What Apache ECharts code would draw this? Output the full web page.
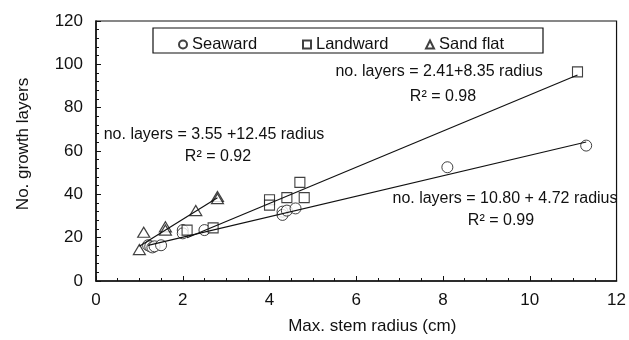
<!DOCTYPE html>
<html>
<head>
<meta charset="utf-8">
<script src="https://cdn.jsdelivr.net/npm/echarts@6/dist/echarts.min.js"></script>
<style>
  html, body { margin: 0; padding: 0; background: #fff; }
  #chart { width: 629px; height: 340px; }
</style>
</head>
<body>
<div id="chart"></div>
<script>
// values
var seawardX = [1.2, 1.25, 1.3, 1.35, 1.5, 2.0, 2.0, 2.5, 4.3, 4.3, 4.4, 4.6, 8.1, 11.3];
var seawardY = [16.5, 16, 15.5, 16, 16.5, 23.5, 22, 23.5, 32, 30.5, 32.5, 33.5, 52.5, 62.5];
var landwardX = [2.1, 2.7, 4.0, 4.0, 4.4, 4.7, 4.8, 11.1];
var landwardY = [23.5, 24.5, 37.5, 35, 38.5, 45.5, 38.5, 96.5];
var sandX = [1.0, 1.1, 1.6, 1.6, 2.3, 2.8, 2.8];
var sandY = [14.5, 22.5, 25, 23.5, 32.5, 39, 38];

// fitted lines: [intercept, slope]
var seawardFit = [10.80, 4.72];
var landwardFit = [2.41, 8.35];
var sandFit = [3.55, 12.45];

var xTicks = [0, 12, 2];
var yTicks = [0, 120, 20];

function pts(xs, ys) {
  return xs.map(function(x, i) { return [x, ys[i]] })
}
function fitLine(xs, fit) {
  var a = Math.min.apply(null, xs)
  var b = Math.max.apply(null, xs)
  return [[a, fit[0] + fit[1] * a], [b, fit[0] + fit[1] * b]]
}

var font = '"Liberation Sans", Arial, sans-serif'
var black = '#111'

var chart = echarts.init(document.getElementById('chart'))

var option = {
  animation: false,
  grid: {
    left: 96,
    right: 10,
    top: 21,
    bottom: 57,
    show: true,
    borderColor: black,
    borderWidth: 1.2
  },
  xAxis: {
    type: 'value',
    min: xTicks[0],
    max: xTicks[1],
    interval: xTicks[2],
    name: 'Max. stem radius (cm)',
    nameLocation: 'middle',
    nameGap: 37,
    nameTextStyle: { fontFamily: font, fontSize: 17, color: black, padding: [0, 0, 0, 32] },
    axisLine: { lineStyle: { color: black, width: 1.5 } },
    axisTick: { inside: true, length: 5, lineStyle: { color: black } },
    minorTick: { show: true, splitNumber: 4, length: 3, lineStyle: { color: black } },
    axisLabel: { fontFamily: font, fontSize: 17, color: black, margin: 11 },
    splitLine: { show: false }
  },
  yAxis: {
    type: 'value',
    min: yTicks[0],
    max: yTicks[1],
    interval: yTicks[2],
    name: 'No. growth layers',
    nameLocation: 'middle',
    nameGap: 64,
    nameTextStyle: { fontFamily: font, fontSize: 17, color: black, padding: [0, 0, 0, 14] },
    axisLine: { lineStyle: { color: black, width: 1.5 } },
    axisTick: { inside: true, length: 5, lineStyle: { color: black } },
    minorTick: { show: true, splitNumber: 5, length: 3, lineStyle: { color: black } },
    axisLabel: { fontFamily: font, fontSize: 17, color: black, margin: 13 },
    splitLine: { show: false }
  },
  legend: [
    { data: ['Seaward'], left: 173, top: 31 },
    { data: ['Landward'], left: 297, top: 31 },
    { data: ['Sand flat'], left: 420, top: 31 }
  ].map(function(l) {
    l.itemWidth = 8
    l.itemHeight = 8
    l.textStyle = { fontFamily: font, fontSize: 16.5, color: black }
    return l
  }),
  graphic: [
    { type: 'rect', shape: { x: 153, y: 28, width: 390, height: 25 }, style: { fill: 'none', stroke: black, lineWidth: 1.2 } },
    { type: 'text', x: 439, y: 72, style: { text: 'no. layers = 2.41+8.35 radius', font: '16px ' + font, fill: black, align: 'center', verticalAlign: 'middle' } },
    { type: 'text', x: 443, y: 97, style: { text: 'R\u00b2 = 0.98', font: '16px ' + font, fill: black, align: 'center', verticalAlign: 'middle' } },
    { type: 'text', x: 214, y: 135, style: { text: 'no. layers = 3.55 +12.45 radius', font: '16px ' + font, fill: black, align: 'center', verticalAlign: 'middle' } },
    { type: 'text', x: 218, y: 157, style: { text: 'R\u00b2 = 0.92', font: '16px ' + font, fill: black, align: 'center', verticalAlign: 'middle' } },
    { type: 'text', x: 505, y: 199, style: { text: 'no. layers = 10.80 + 4.72 radius', font: '16px ' + font, fill: black, align: 'center', verticalAlign: 'middle' } },
    { type: 'text', x: 501, y: 221, style: { text: 'R\u00b2 = 0.99', font: '16px ' + font, fill: black, align: 'center', verticalAlign: 'middle' } }
  ],
  series: [
    {
      name: 'Seaward',
      type: 'scatter',
      symbol: 'circle',
      symbolSize: 11,
      itemStyle: { color: '#fff', borderColor: black, borderWidth: 1 },
      data: pts(seawardX, seawardY),
      z: 3
    },
    {
      name: 'Landward',
      type: 'scatter',
      symbol: 'rect',
      symbolSize: 10,
      itemStyle: { color: '#fff', borderColor: black, borderWidth: 1.1 },
      data: pts(landwardX, landwardY),
      z: 3
    },
    {
      name: 'Sand flat',
      type: 'scatter',
      symbol: 'triangle',
      symbolSize: [12, 10],
      itemStyle: { color: '#fff', borderColor: black, borderWidth: 1.2 },
      data: pts(sandX, sandY),
      z: 3
    },
    { type: 'line', data: fitLine(seawardX, seawardFit), symbol: 'none', lineStyle: { color: black, width: 1.2 }, z: 4, silent: true },
    { type: 'line', data: fitLine(landwardX, landwardFit), symbol: 'none', lineStyle: { color: black, width: 1.2 }, z: 4, silent: true },
    { type: 'line', data: fitLine(sandX, sandFit), symbol: 'none', lineStyle: { color: black, width: 1.2 }, z: 4, silent: true }
  ]
}

chart.setOption(option)
window.addEventListener('resize', function() {
  chart.resize()
})
</script>
</body>
</html>
